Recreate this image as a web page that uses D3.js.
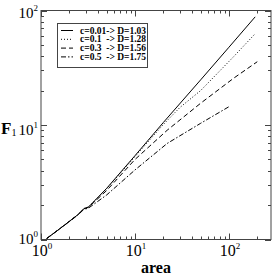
<!DOCTYPE html>
<html><head><meta charset="utf-8">
<script src="https://cdn.jsdelivr.net/npm/d3@7"></script>
<style>
html,body{margin:0;padding:0;background:#fff;}
svg{display:block;font-family:"Liberation Serif","DejaVu Serif",serif;}
</style></head>
<body><svg id="c" width="274" height="280"></svg>
<script>
// ---- data ----
const seriesNames = ["c=0.01-> D=1.03", "c=0.1  -> D=1.28", "c=0.3  -> D=1.56", "c=0.5  -> D=1.75"];
const area001 = [1.15, 1.5, 2, 2.5, 2.85, 3.2, 5, 10, 20, 50, 100, 190];
const F001    = [1.02, 1.2, 1.44, 1.66, 1.86, 1.92, 2.8, 5.4, 10.5, 24.8, 47.8, 88];
const area01  = [1.15, 1.5, 2, 2.5, 2.85, 3.2, 5, 10, 20, 30, 50, 112, 191];
const F01     = [1.02, 1.2, 1.44, 1.66, 1.86, 1.92, 2.78, 5.3, 10.1, 14.2, 20, 39.5, 63];
const area03  = [1.15, 1.5, 2, 2.5, 2.85, 3.2, 5, 10, 22, 50, 112, 200];
const F03     = [1.02, 1.2, 1.44, 1.66, 1.85, 1.91, 2.68, 5.0, 9.0, 15.5, 25.6, 35.7];
const area05  = [1.15, 1.5, 2, 2.5, 2.85, 3.2, 5, 10, 22, 50, 100];
const F05     = [1.02, 1.2, 1.43, 1.65, 1.83, 1.88, 2.45, 4.05, 6.9, 10.35, 14.45];
const xTickExps = [0, 1, 2];
const yTickExps = [0, 1, 2];
const xLabel = "area";
const yLabel = "F";
const yLabelSub = "1";

const series = [
  {name: seriesNames[0], xs: area001, ys: F001, dash: null},
  {name: seriesNames[1], xs: area01,  ys: F01,  dash: "1,2"},
  {name: seriesNames[2], xs: area03,  ys: F03,  dash: "5,3"},
  {name: seriesNames[3], xs: area05,  ys: F05,  dash: "5,2,1.5,2"}
];

// ---- layout ----
const L = 41, R = 271, T = 10.5, B = 239.5;
const svg = d3.select("#c");
const x = d3.scaleLog().domain([1, 280]).range([L, R]);
const y = d3.scaleLog().domain([1, 100]).range([B, T]);
const frameCol = "#444";

function minorTicks(dom){
  const out=[];
  for(let e=0;e<3;e++){for(let k=2;k<=9;k++){const v=k*Math.pow(10,e); if(v>dom[0]&&v<dom[1]) out.push(v);}}
  return out;
}
const xMajor = xTickExps.map(e=>Math.pow(10,e));
const yMajor = yTickExps.map(e=>Math.pow(10,e));
const tickG = svg.append("g").attr("stroke", frameCol).attr("stroke-width", 1);
xMajor.forEach(v=>{const px=Math.round(x(v))+0.5;
  tickG.append("line").attr("x1",px).attr("x2",px).attr("y1",B).attr("y2",B-6);
  tickG.append("line").attr("x1",px).attr("x2",px).attr("y1",T).attr("y2",T+6);});
minorTicks(x.domain()).forEach(v=>{const px=Math.round(x(v))+0.5;
  tickG.append("line").attr("x1",px).attr("x2",px).attr("y1",B).attr("y2",B-3);
  tickG.append("line").attr("x1",px).attr("x2",px).attr("y1",T).attr("y2",T+3);});
yMajor.forEach(v=>{const py=Math.round(y(v))+0.5;
  tickG.append("line").attr("x1",L).attr("x2",L+6).attr("y1",py).attr("y2",py);
  tickG.append("line").attr("x1",R).attr("x2",R-6).attr("y1",py).attr("y2",py);});
minorTicks(y.domain()).forEach(v=>{const py=Math.round(y(v))+0.5;
  tickG.append("line").attr("x1",L).attr("x2",L+3).attr("y1",py).attr("y2",py);
  tickG.append("line").attr("x1",R).attr("x2",R-3).attr("y1",py).attr("y2",py);});

// series
const line = d3.line().x(d=>x(d[0])).y(d=>y(d[1]));
series.forEach(s=>{
  const pts = s.xs.map((a,i)=>[a, s.ys[i]]);
  svg.append("path").attr("d", line(pts)).attr("fill","none")
    .attr("stroke","#000").attr("stroke-width",1)
    .attr("stroke-dasharray", s.dash);
});

// frame
svg.append("rect").attr("x",L).attr("y",T).attr("width",R-L).attr("height",B-T)
  .attr("fill","none").attr("stroke",frameCol).attr("stroke-width",1);

// tick labels
function powLabel(sel, exp){
  sel.append("tspan").text("10");
  sel.append("tspan").attr("dy",-7).attr("font-size",9).text(String(exp));
}
xTickExps.forEach(e=>{
  const t = svg.append("text").attr("x", x(Math.pow(10,e))+1).attr("y", 256)
    .attr("text-anchor","middle").attr("font-size",16).attr("fill","#000");
  powLabel(t, e);
});
const yOff = {0: 4, 1: 10, 2: 7};
yTickExps.forEach(e=>{
  const t = svg.append("text").attr("x", 38).attr("y", y(Math.pow(10,e))+yOff[e])
    .attr("text-anchor","end").attr("font-size",15).attr("fill","#000");
  powLabel(t, e);
});

// axis titles
svg.append("text").attr("x",156).attr("y",273).attr("text-anchor","middle")
  .attr("font-size",16).attr("font-weight","bold").text(xLabel);
const ft = svg.append("text").attr("x",1).attr("y",134).attr("font-size",17).attr("font-weight","bold");
ft.append("tspan").text(yLabel);
ft.append("tspan").attr("dy",2).attr("font-size",10).attr("font-weight","normal").text(yLabelSub);

// legend
const lg = svg.append("g");
lg.append("rect").attr("x",57.5).attr("y",23.5).attr("width",90).attr("height",44)
  .attr("fill","#fff").attr("stroke",frameCol).attr("stroke-width",1);
series.forEach((s,i)=>{
  const cy = 30.5 + i*8.8;
  lg.append("line").attr("x1",61).attr("x2",73).attr("y1",cy).attr("y2",cy)
    .attr("stroke","#000").attr("stroke-width",1).attr("stroke-dasharray",s.dash);
  lg.append("text").attr("x",80).attr("y",cy+3).attr("font-size",9.5).attr("font-weight","bold")
    .attr("xml:space","preserve").style("white-space","pre").text(s.name);
});
</script></body></html>
